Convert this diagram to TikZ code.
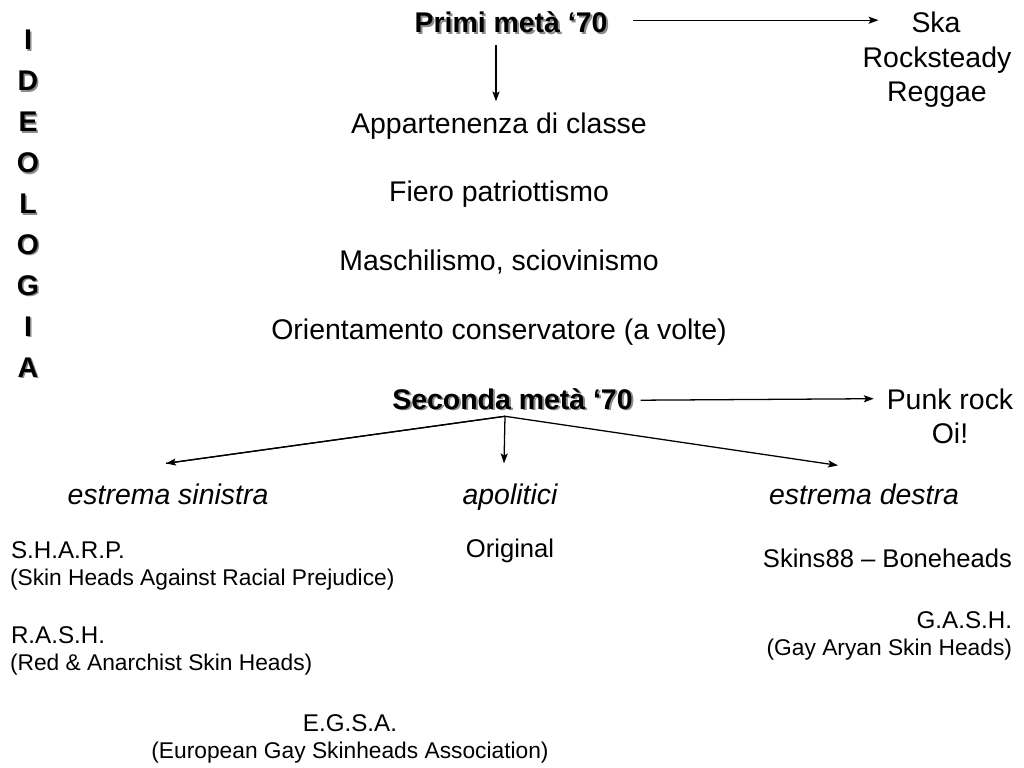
\documentclass[tikz,border=0pt]{standalone}
\usepackage{fontspec}
\setmainfont{Liberation Sans}
\usetikzlibrary{arrows.meta}
\begin{document}
\begin{tikzpicture}[x=0.703125pt,y=-0.703125pt,
  every node/.style={inner sep=0pt, outer sep=0pt, anchor=base},
  big/.style={font=\fontsize{20}{24}\selectfont},
  mid/.style={font=\fontsize{18}{22}\selectfont},
  acro/.style={font=\fontsize{17}{20}\selectfont},
  small/.style={font=\fontsize{16}{19}\selectfont},
  head/.style={font=\fontsize{20}{24}\selectfont\bfseries},
  headshadow/.style={head, text=black!45},
  arr/.style={line width=0.9pt, -{Stealth[length=7pt,width=5pt,inset=1.5pt]}}
]
\useasboundingbox (0,0) rectangle (1024,768);

% IDEOLOGIA (vertical, shadowed)
\foreach \l [count=\i from 0] in {I,D,E,O,L,O,G,I,A}{
  \node[headshadow] at (29.5,51.5+40.9*\i) {\l};
  \node[head] (ideo\i) at (28,50+40.9*\i) {\l};
}

% Primi meta '70
\node[headshadow] at (513,35) {Primi metà ‘70};
\node[head] (primi) at (511,33) {Primi metà ‘70};

\node[big] (ska) at (936,33) {Ska};
\node[big] (rock) at (937,67.5) {Rocksteady};
\node[big] (reg) at (937,102) {Reggae};

\node[big] (app) at (499,134) {Appartenenza di classe};
\node[big] (fie) at (499,202) {Fiero patriottismo};
\node[big] (mas) at (499,271) {Maschilismo, sciovinismo};
\node[big] (ori) at (499,339) {Orientamento conservatore (a volte)};

% Seconda meta '70
\node[headshadow] at (514.5,410.5) {Seconda metà ‘70};
\node[head] (sec) at (512.5,409) {Seconda metà ‘70};

\node[big] (punk) at (950,409) {Punk rock};
\node[big] (oi) at (950,443) {Oi!};

\node[big, font=\fontsize{20}{24}\selectfont\itshape] (sin) at (168,504) {estrema sinistra};
\node[big, font=\fontsize{20}{24}\selectfont\itshape] (apo) at (510,504) {apolitici};
\node[big, font=\fontsize{20}{24}\selectfont\itshape] (des) at (864,504) {estrema destra};

% left column
\node[acro, anchor=base west] (sharp) at (11,558) {S.H.A.R.P.};
\node[small, anchor=base west] (sharpl) at (10,585) {(Skin Heads Against Racial Prejudice)};
\node[acro, anchor=base west] (rash) at (11,643) {R.A.S.H.};
\node[small, anchor=base west] (rashl) at (10,670) {(Red \& Anarchist Skin Heads)};
\node[acro] (egsa) at (350,731) {E.G.S.A.};
\node[small] (egsal) at (350,758) {(European Gay Skinheads Association)};

% middle
\node[mid] (orig) at (510,557) {Original};

% right column
\node[mid, anchor=base east] (skins) at (1012,567) {Skins88 – Boneheads};
\node[acro, anchor=base east] (gash) at (1012,628) {G.A.S.H.};
\node[small, anchor=base east] (gashl) at (1012,655) {(Gay Aryan Skin Heads)};

% connectors
\draw[arr] ([shift={(26,-2.5)}]primi.east) -- ([shift={(-33,-2.5)}]ska.west |- primi.east);
\draw[arr] ([shift={(-15,12)}]primi.south) -- ([shift={(-3,-12)}]app.north);
\draw[arr] ([shift={(8,1.5)}]sec.east) -- ([shift={(-13,0)}]punk.west |- sec.east);
\coordinate (apex) at ([shift={(-7.5,7)}]sec.south);
\draw[line width=0.9pt] (apex) -- ([shift={(-2,-20)}]sin.north);
\draw[arr] (apex) -- ([shift={(-2,-20)}]sin.north);
\draw[arr] (apex) -- ([shift={(-6,-20)}]apo.north);
\draw[arr] (apex) -- ([shift={(-26,-18)}]des.north);
\end{tikzpicture}
\end{document}
